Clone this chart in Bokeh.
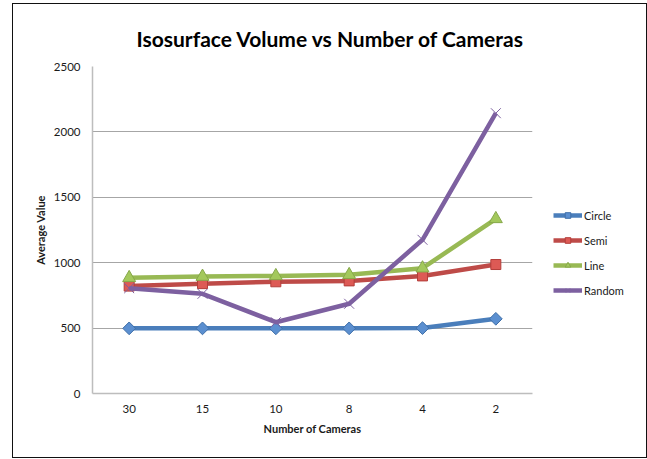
import math

from bokeh.embed import file_html
from bokeh.layouts import row
from bokeh.models import (FactorRange, FixedTicker, Legend, LegendItem,
                          Range1d)
from bokeh.plotting import figure
from bokeh.resources import INLINE

# Isosurface volume averages per camera count
cameras = ["30", "15", "10", "8", "4", "2"]
circle = [498, 498, 498, 498, 500, 571]
semi = [821, 840, 854, 861, 899, 986]
line = [884, 894, 899, 907, 958, 1335]
random_cams = [805, 762, 545, 686, 1175, 2143]
y_ticks = [0, 500, 1000, 1500, 2000, 2500]

FONT = "Lato"
TEXT = "#1a1a1a"

p = figure(
    width=540, height=453,
    x_range=FactorRange(*cameras, range_padding=0),
    y_range=Range1d(0, 2500),
    output_backend="svg", toolbar_location=None,
    min_border_left=79, min_border_right=21,
    min_border_top=62, min_border_bottom=64,
    background_fill_color="white", border_fill_color="white",
)
p.outline_line_color = None

p.title.text = "Isosurface Volume vs Number of Cameras"
p.title.align = "left"
p.title.offset = 44
p.title.standoff = 32
p.title.text_font = FONT
p.title.text_font_size = "21px"
p.title.text_font_style = "bold"
p.title.text_color = "black"

# axes
p.yaxis.ticker = FixedTicker(ticks=y_ticks)
for ax in (p.xaxis[0], p.yaxis[0]):
    ax.axis_line_color = "#bdbdbd"
    ax.axis_line_width = 1.5
    ax.major_tick_line_color = None
    ax.minor_tick_line_color = None
    ax.major_tick_out = 0
    ax.major_tick_in = 0
    ax.minor_tick_out = 0
    ax.major_label_text_font = FONT
    ax.major_label_text_font_size = "11.5px"
    ax.major_label_text_color = TEXT
    ax.axis_label_text_font = FONT
    ax.axis_label_text_font_size = "11px"
    ax.axis_label_text_font_style = "bold"
    ax.axis_label_text_color = TEXT

p.xaxis.axis_label = "Number of Cameras"
p.xaxis.major_label_standoff = 11
p.xaxis.axis_label_standoff = 6
p.yaxis.axis_label = "Average Value"
p.yaxis.major_label_standoff = 12
p.yaxis.axis_label_standoff = 4

p.xgrid.grid_line_color = None
p.ygrid.grid_line_color = "#a6a6a6"
p.ygrid.grid_line_width = 1

series = [
    ("Circle", circle, "#4a7ebb", dict(marker="square", size=9, angle=math.pi / 4,
                                       fill_color="#5b8fd0", line_color="#3f6fa8")),
    ("Semi", semi, "#be4b48", dict(marker="square", size=10,
                                   fill_color="#dd5a55", line_color="#b33e3a")),
    ("Line", line, "#98b954", dict(marker="triangle", size=13,
                                   fill_color="#a3c85c", line_color="#86a84a")),
    ("Random", random_cams, "#7d60a0", dict(marker="x", size=14,
                                           line_color="#7d60a0", line_width=1)),
]

# key panel: a bare plot beside the chart that only shows the series key;
# its y range sits below the data so the series themselves stay hidden
key = figure(
    width=93, height=453,
    x_range=FactorRange(*cameras), y_range=Range1d(-2, -1),
    x_axis_location=None, y_axis_location=None,
    output_backend="svg", toolbar_location=None,
    min_border=0, background_fill_color="white", border_fill_color="white",
)
key.outline_line_color = None
key.grid.visible = False

items = []
for name, vals, color, mk in series:
    p.line(cameras, vals, line_color=color, line_width=4.5, line_join="round")
    p.scatter(cameras, vals, **mk)
    kl = key.line(cameras, vals, line_color=color, line_width=4.5)
    ks = key.scatter(cameras, vals, **mk)
    items.append(LegendItem(label=name, renderers=[kl, ks]))

legend = Legend(
    items=items, location=(0, 96),
    glyph_width=29, glyph_height=14, label_height=14, spacing=11,
    label_standoff=2, padding=0, margin=0,
    label_text_font=FONT, label_text_font_size="11px", label_text_color=TEXT,
    border_line_color=None, background_fill_alpha=0,
)
key.add_layout(legend, "center")

chart = row(p, key, spacing=0)
# thin dark frame around the whole chart
chart.styles = {"margin-left": "12px", "margin-top": "3px",
                "border": "1px solid #111111"}

open("out.html", "w").write(file_html(chart, INLINE))
